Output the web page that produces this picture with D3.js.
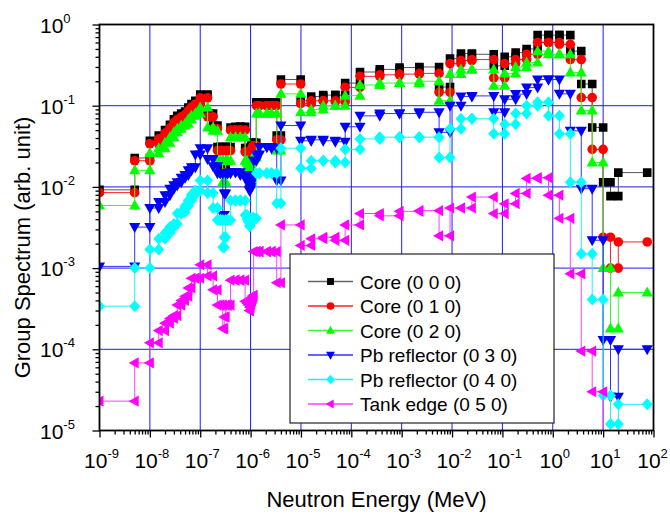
<!DOCTYPE html>
<html><head><meta charset="utf-8">
<script src="https://cdn.jsdelivr.net/npm/d3@7"></script>
<style>
body{margin:0;background:#fff}
text{font-family:"Liberation Sans",Arial,Helvetica,sans-serif;fill:#000}
</style>
</head><body>
<svg id="chart" width="670" height="514"></svg>
<script>
// Group boundaries (MeV)
const boundaries = [1e-9,5e-9,1e-8,1.5e-8,2e-8,2.5e-8,3e-8,3.5e-8,4.2e-8,5e-8,5.8e-8,6.7e-8,8e-8,1e-7,
  1.4e-7,1.8e-7,2.2e-7,2.5e-7,2.8e-7,3e-7,3.2e-7,3.5e-7,4e-7,5e-7,6.25e-7,7.8e-7,8.5e-7,9.1e-7,
  9.5e-7,9.72e-7,9.96e-7,1.02e-6,1.045e-6,1.071e-6,1.097e-6,1.123e-6,1.15e-6,1.3e-6,1.5e-6,2.1e-6,2.6e-6,3.3e-6,4e-6,
  9.877e-6,1.5968e-5,2.77e-5,4.8052e-5,7.5501e-5,1.4873e-4,3.6726e-4,9.069e-4,2.2394e-3,5.53e-3,9.118e-3,1.503e-2,2.478e-2,6.734e-2,
  0.111,0.183,0.3025,0.5,0.821,1.353,2.231,3.679,6.0655,10,14,20,75];

// Group values per series (one value per group)
const core000 = [0.0092,0.0227,0.037,0.043,0.05,0.058,0.068,0.075,0.08,0.085,0.095,0.105,0.115,0.137,
  0.08,0.057,0.031,0.031,0.017,0.017,0.031,0.031,0.054,0.055,0.055,
  0.03,0.029,0.028,0.026,0.028,0.03,0.031,0.032,0.033,0.034,0.035,
  0.035,0.11,0.11,0.11,0.11,0.043,
  0.21,0.115,0.13,0.135,0.135,0.19,0.26,0.28,0.295,0.30,0.17,0.38,0.44,0.43,
  0.31,0.40,0.45,0.50,0.74,0.74,0.74,0.47,0.185,0.054,0.0114,0.0077,0.015];
const core010 = [0.0085,0.021,0.034,0.039,0.046,0.053,0.062,0.068,0.073,0.078,0.087,0.096,0.105,0.125,
  0.073,0.052,0.028,0.028,0.0147,0.0147,0.028,0.028,0.05,0.05,0.05,
  0.027,0.026,0.025,0.023,0.025,0.027,0.028,0.029,0.03,0.031,0.032,
  0.032,0.1,0.1,0.1,0.1,0.038,
  0.185,0.106,0.115,0.115,0.112,0.168,0.23,0.24,0.245,0.25,0.146,0.33,0.36,0.37,
  0.22,0.33,0.37,0.43,0.6,0.6,0.57,0.37,0.126,0.029,0.0024,0.001,0.0021];
const core020 = [0.0059,0.016,0.026,0.03,0.035,0.041,0.047,0.052,0.057,0.06,0.068,0.075,0.08,0.095,
  0.054,0.049,0.021,0.021,0.0114,0.0114,0.021,0.021,0.041,0.041,0.041,
  0.021,0.02,0.019,0.017,0.019,0.02,0.021,0.021,0.022,0.022,0.023,
  0.023,0.08,0.08,0.08,0.08,0.028,
  0.14,0.083,0.09,0.1,0.1,0.133,0.18,0.19,0.19,0.2,0.115,0.245,0.28,0.28,
  0.176,0.25,0.3,0.34,0.47,0.43,0.43,0.256,0.087,0.02,0.001,0.00018,0.0005];
const pbReflector030 = [0.00105,0.0032,0.0055,0.0065,0.0079,0.0095,0.0105,0.0114,0.013,0.014,0.016,0.0175,0.025,0.03,
  0.022,0.018,0.0147,0.0147,0.0045,0.0083,0.0147,0.0147,0.0152,0.0152,0.014,
  0.0128,0.012,0.011,0.009,0.0095,0.01,0.011,0.012,0.0128,0.013,0.014,
  0.021,0.025,0.031,0.031,0.03,0.012,
  0.057,0.037,0.038,0.037,0.036,0.055,0.075,0.08,0.08,0.083,0.047,0.1,0.13,0.132,
  0.083,0.12,0.139,0.167,0.21,0.21,0.14,0.049,0.0095,0.0022,0.00013,0.000026,0.0001];
const pbReflector040 = [0.00034,0.001,0.0017,0.0023,0.0027,0.0032,0.0035,0.0047,0.0049,0.0058,0.0068,0.008,0.009,0.012,
  0.0084,0.0055,0.0039,0.0039,0.0018,0.0024,0.0039,0.0039,0.0068,0.0068,0.0068,
  0.0045,0.004,0.0037,0.0033,0.0035,0.0037,0.0039,0.004,0.004,0.0041,0.0041,
  0.0041,0.0147,0.0147,0.0147,0.0147,0.0063,
  0.03,0.017,0.021,0.021,0.02,0.029,0.039,0.041,0.041,0.041,0.023,0.052,0.069,0.069,
  0.045,0.059,0.08,0.1,0.11,0.075,0.045,0.0114,0.0015,0.00041,0.000027,0.000012,0.000021];
const tankEdge050 = [0.000023,0.000068,0.00012,0.00017,0.00021,0.00024,0.00026,0.00035,0.0004,0.00045,0.00057,0.00075,0.00075,0.0011,
  0.0008,0.00054,0.00035,0.00035,0.00018,0.00025,0.00035,0.00035,0.00071,0.00071,0.00071,
  0.00039,0.00037,0.00035,0.0003,0.00033,0.00036,0.00039,0.0004,0.00042,0.00044,0.00046,
  0.0016,0.0016,0.0016,0.0016,0.0016,0.00066,
  0.0034,0.0019,0.0023,0.0024,0.0022,0.0034,0.0047,0.0044,0.005,0.0051,0.0025,0.0055,0.0055,0.0075,
  0.0047,0.0062,0.0083,0.0127,0.013,0.0079,0.0041,0.00085,0.000095,0.00003,0.000001,null,null];

const seriesNames = ["Core (0 0 0)","Core (0 1 0)","Core (0 2 0)","Pb reflector (0 3 0)","Pb reflector (0 4 0)","Tank edge (0 5 0)"];
const seriesValues = [core000, core010, core020, pbReflector030, pbReflector040, tankEdge050];
const seriesColors = ["#000000","#ff0000","#00ff00","#0000ff","#00ffff","#ff00ff"];
const lineColors   = ["#555555","#ff2020","#30ff30","#3030ff","#20f0f0","#ff40ff"];
const seriesSymbols = ["square","circle","up","down","diamond","left"];
const xTickExps = [-9,-8,-7,-6,-5,-4,-3,-2,-1,0,1,2];
const yTickExps = [-5,-4,-3,-2,-1,0];
const xTitle = "Neutron Energy (MeV)";
const yTitle = "Group Spectrum (arb. unit)";

const L=99.5, R=653.5, T=24.5, B=430.5;
const svg = d3.select("#chart");
const x = d3.scaleLog().domain([1e-9,1e2]).range([L,R]);
const y = d3.scaleLog().domain([1e-5,1]).range([B,T]);

function symPath(type, k){
  const s = k;
  switch(type){
    case "square": return `M${-4.3*s},${-4.3*s}h${8.6*s}v${8.6*s}h${-8.6*s}Z`;
    case "up": return `M0,${-6*s}L${5.6*s},${4*s}L${-5.6*s},${4*s}Z`;
    case "down": return `M0,${6*s}L${5.6*s},${-4*s}L${-5.6*s},${-4*s}Z`;
    case "diamond": return `M0,${-6*s}L${5.5*s},0L0,${6*s}L${-5.5*s},0Z`;
    case "left": return `M${-6*s},0L${4*s},${-5.6*s}L${4*s},${5.6*s}Z`;
  }
  return "";
}
function drawSym(g, type, cx, cy, color, k){
  if(type==="circle"){
    g.append("circle").attr("cx",cx).attr("cy",cy).attr("r",4.8*k).attr("fill",color);
  } else {
    g.append("path").attr("d",symPath(type,k)).attr("transform",`translate(${cx},${cy})`).attr("fill",color);
  }
}

// grid
const grid = svg.append("g");
xTickExps.slice(1,-1).forEach(e=>{
  grid.append("line").attr("x1",x(10**e)).attr("x2",x(10**e)).attr("y1",T).attr("y2",B)
    .attr("stroke","#1a1aff").attr("stroke-width",1);
});
yTickExps.slice(1,-1).forEach(e=>{
  grid.append("line").attr("x1",L).attr("x2",R).attr("y1",y(10**e)).attr("y2",y(10**e))
    .attr("stroke","#1a1aff").attr("stroke-width",1);
});

// clip
svg.append("clipPath").attr("id","clip").append("rect").attr("x",L).attr("y",T).attr("width",R-L).attr("height",B-T);
const plot = svg.append("g").attr("clip-path","url(#clip)");

seriesValues.forEach((vals,si)=>{
  const pts=[];
  vals.forEach((v,i)=>{
    if(v==null) return;
    pts.push([boundaries[i],v]); pts.push([boundaries[i+1],v]);
  });
  const line = d3.line().x(d=>x(d[0])).y(d=>y(d[1]));
  plot.append("path").attr("d",line(pts)).attr("fill","none")
    .attr("stroke",lineColors[si]).attr("stroke-width",1);
  const mg = plot.append("g");
  pts.forEach(p=>drawSym(mg, seriesSymbols[si], x(p[0]), y(p[1]), seriesColors[si], 1));
});

// axes
const minorVals = [];
for(let e=-9;e<2;e++){ for(let m=2;m<10;m++) minorVals.push(m*10**e); }
const yMinor = [];
for(let e=-5;e<0;e++){ for(let m=2;m<10;m++) yMinor.push(m*10**e); }
const majX = xTickExps.map(e=>10**e), majY = yTickExps.map(e=>10**e);

const ax = svg.append("g").attr("transform",`translate(0,${B})`);
ax.call(d3.axisBottom(x).tickValues(minorVals).tickSize(4).tickFormat(""));
ax.call(g=>g.append("g").call(d3.axisBottom(x).tickValues(majX).tickSize(7).tickFormat("")));
ax.selectAll("path").remove();
ax.selectAll("line").attr("stroke","#000").attr("stroke-width",1.3);

const ay = svg.append("g").attr("transform",`translate(${L},0)`);
ay.call(d3.axisLeft(y).tickValues(yMinor).tickSize(4).tickFormat(""));
ay.call(g=>g.append("g").call(d3.axisLeft(y).tickValues(majY).tickSize(7).tickFormat("")));
ay.selectAll("path").remove();
ay.selectAll("line").attr("stroke","#000").attr("stroke-width",1.3);

// frame
svg.append("rect").attr("x",L).attr("y",T).attr("width",R-L).attr("height",B-T)
  .attr("fill","none").attr("stroke","#000").attr("stroke-width",1.8);

// tick labels
xTickExps.forEach((e,i)=>{
  const off = i===xTickExps.length-1 ? -1 : 2;
  const t = svg.append("text").attr("x",x(10**e)+off).attr("y",468).attr("text-anchor","middle").attr("font-size",21);
  t.append("tspan").text("10");
  t.append("tspan").attr("dy",-10).attr("font-size",13).text(e);
});
yTickExps.forEach(e=>{
  const t = svg.append("text").attr("x",40).attr("y",y(10**e)+8).attr("font-size",21);
  t.append("tspan").text("10");
  t.append("tspan").attr("dy",-10).attr("font-size",13).text(e);
});

// titles
svg.append("text").attr("x",(L+R)/2).attr("y",507).attr("text-anchor","middle").attr("font-size",22).text(xTitle);
svg.append("text").attr("transform",`translate(30,${(T+B)/2+20}) rotate(-90)`).attr("text-anchor","middle")
  .attr("font-size",22).text(yTitle);

// legend
const lg = svg.append("g");
lg.append("rect").attr("x",290).attr("y",254).attr("width",264).attr("height",169)
  .attr("fill","#fff").attr("stroke","#222").attr("stroke-width",1.2);
seriesNames.forEach((n,i)=>{
  const cy = 281.5 + i*24.5;
  lg.append("line").attr("x1",308).attr("x2",353).attr("y1",cy).attr("y2",cy)
    .attr("stroke",i===0?"#666":lineColors[i]).attr("stroke-width",1.5);
  drawSym(lg, seriesSymbols[i], 330.5, cy, seriesColors[i], 0.8);
  lg.append("text").attr("x",360).attr("y",cy+7).attr("font-size",19).text(n);
});
</script>
</body></html>
